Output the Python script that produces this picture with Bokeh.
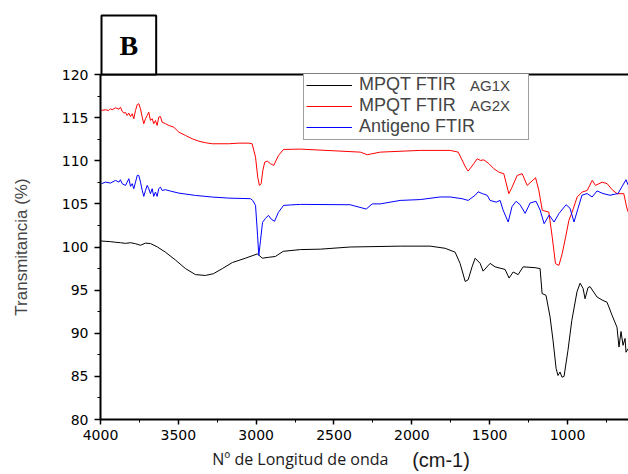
from bokeh.plotting import figure
from bokeh.layouts import column
from bokeh.models import (Range1d, SingleIntervalTicker, FixedTicker, LinearAxis, Legend, LegendItem)
from bokeh.core.properties import value
from bokeh.embed import file_html
from bokeh.resources import INLINE

# ---- data ----
red_x = [3994, 3968, 3947, 3936, 3925, 3904, 3882, 3872, 3861, 3850, 3839, 3829, 3818, 3807, 3796,
         3786, 3775, 3764, 3754, 3743, 3732, 3722, 3711, 3700, 3690, 3679, 3668, 3658, 3647, 3636,
         3626, 3615, 3604, 3582, 3561, 3529, 3497, 3454, 3411, 3369, 3326, 3282, 3176, 3112, 3047,
         3026, 3004, 2990, 2979, 2968, 2957, 2945, 2929, 2908, 2887, 2857, 2824, 2715, 2331, 2286,
         2203, 1946, 1754, 1702, 1655, 1638, 1602, 1580, 1559, 1537, 1505, 1473, 1441, 1409, 1377,
         1356, 1323, 1291, 1259, 1205, 1184, 1162, 1120, 1098, 1077, 1055, 1034, 1012, 991, 970,
         938, 906, 873, 841, 820, 777, 745, 713, 681, 638, 620, 610]
red_y = [115.83, 115.91, 115.83, 116.03, 115.91, 116.14, 115.98, 116.21, 115.75, 115.52, 115.60, 115.25,
         115.52, 115.13, 115.45, 114.87, 115.83, 116.52, 116.61, 116.03, 115.05, 114.29, 114.87, 115.25,
         115.63, 114.67, 114.87, 114.29, 114.67, 114.09, 115.05, 115.13, 114.47, 114.29, 114.09, 113.89,
         113.32, 112.93, 112.55, 112.27, 112.09, 111.97, 111.97, 112.04, 112.04, 111.97, 110.42, 108.10,
         107.14, 107.34, 108.88, 109.84, 109.96, 109.66, 109.46, 110.60, 111.31, 111.35, 111.00, 110.70,
         111.00, 111.20, 111.20, 111.00, 109.26, 108.80, 109.66, 110.23, 110.04, 110.10, 109.66, 109.08,
         108.68, 108.50, 106.18, 106.94, 108.30, 108.50, 107.14, 108.03, 106.56, 104.25, 104.05, 101.15,
         98.07, 97.87, 99.23, 101.15, 103.09, 104.05, 105.79, 106.37, 106.56, 107.72, 107.14, 107.52,
         107.34, 106.64, 106.18, 106.18, 104.63, 104.05]

blue_x = [3994, 3968, 3936, 3904, 3882, 3872, 3861, 3839, 3829, 3818, 3807, 3796, 3786, 3775, 3764,
          3754, 3743, 3732, 3722, 3711, 3700, 3690, 3679, 3668, 3658, 3647, 3636, 3626, 3615, 3604,
          3582, 3550, 3497, 3390, 3282, 3176, 3036, 3022, 3004, 2991, 2983, 2972, 2959, 2940, 2921,
          2902, 2882, 2857, 2824, 2779, 2715, 2396, 2293, 2254, 2203, 2075, 1946, 1818, 1754, 1677,
          1638, 1593, 1574, 1548, 1516, 1497, 1458, 1433, 1414, 1381, 1356, 1330, 1304, 1272, 1240,
          1202, 1176, 1150, 1118, 1086, 1054, 1009, 984, 958, 932, 907, 874, 842, 810, 772, 727,
          675, 650, 624, 611]
blue_y = [107.34, 107.52, 107.41, 107.72, 107.52, 107.80, 107.34, 107.14, 107.52, 107.92, 107.03, 107.34,
          106.76, 107.52, 108.30, 108.30, 107.52, 106.56, 105.87, 106.56, 107.14, 106.76, 106.18, 106.76,
          105.87, 106.37, 105.87, 106.76, 106.94, 106.56, 106.64, 106.48, 106.25, 105.98, 105.79, 105.67,
          105.60, 105.40, 104.82, 101.36, 99.03, 100.77, 102.86, 103.32, 103.67, 103.21, 102.98, 104.02,
          104.82, 104.88, 104.94, 104.90, 104.40, 105.00, 105.00, 105.40, 105.50, 105.80, 105.80, 105.60,
          105.40, 106.00, 106.40, 106.20, 106.00, 105.40, 105.20, 105.40, 104.30, 102.90, 104.70, 105.30,
          104.90, 103.90, 105.10, 105.30, 104.30, 102.70, 103.70, 102.90, 103.90, 104.90, 104.50, 102.90,
          104.50, 106.00, 106.20, 105.80, 106.50, 106.20, 106.00, 106.20, 107.00, 107.80, 107.20]

black_x = [4000, 3936, 3904, 3872, 3840, 3807, 3775, 3743, 3711, 3679, 3634, 3583, 3519, 3454, 3390,
           3326, 3275, 3217, 3153, 3069, 2992, 2960, 2922, 2877, 2826, 2716, 2588, 2396, 2075, 1882,
           1786, 1722, 1690, 1657, 1638, 1613, 1593, 1561, 1542, 1497, 1465, 1401, 1375, 1349, 1317,
           1285, 1208, 1176, 1163, 1138, 1112, 1093, 1073, 1061, 1048, 1035, 1022, 997, 972, 939, 919,
           900, 887, 868, 855, 810, 772, 746, 714, 682, 669, 656, 643, 630, 624, 611]
black_y = [100.70, 100.62, 100.55, 100.50, 100.42, 100.50, 100.38, 100.20, 100.45, 100.40, 100.00, 99.40,
           98.50, 97.50, 96.80, 96.70, 96.90, 97.50, 98.20, 98.70, 99.20, 98.70, 98.80, 98.90, 99.50,
           99.70, 99.75, 100.00, 100.10, 100.10, 99.85, 99.40, 98.10, 96.00, 96.20, 97.70, 98.70, 98.10,
           97.20, 98.10, 97.70, 97.40, 96.40, 97.10, 96.80, 97.70, 97.60, 97.50, 94.60, 94.40, 91.90,
           89.20, 85.90, 85.10, 85.50, 84.90, 85.00, 88.00, 91.50, 94.80, 95.80, 95.20, 94.00, 95.30,
           95.40, 94.20, 93.80, 93.60, 92.10, 90.70, 88.40, 90.20, 88.60, 89.40, 87.80, 88.20]

series_labels = ["MPQT FTIR", "MPQT FTIR", "Antigeno FTIR"]
series_suffix = ["AG1X", "AG2X"]
panel_letter = "B"
x_title = "Nº de Longitud de onda"
x_unit = "(cm-1)"
y_title = "Transmitancia (%)"
x_ticks_interval = 500
y_ticks_interval = 5

p = figure(width=628, height=446, x_range=Range1d(4000, 608), y_range=Range1d(80, 120),
           output_backend="svg", toolbar_location=None,
           min_border_left=100, min_border_right=0, min_border_top=74, min_border_bottom=27)
p.outline_line_color = None
p.xgrid.visible = False
p.ygrid.visible = False
p.background_fill_color = "white"
p.border_fill_color = "white"

r_black = p.line(black_x, black_y, line_color="black", line_width=1)
r_red = p.line(red_x, red_y, line_color="#ff0000", line_width=1)
r_blue = p.line(blue_x, blue_y, line_color="#0000ff", line_width=1)
r_dummy = p.line([], [], line_alpha=0)

for ax in (p.xaxis[0], p.yaxis[0]):
    ax.axis_line_width = 2
    ax.major_tick_line_width = 1.5
    ax.minor_tick_line_width = 1
    ax.major_label_text_font = "DejaVu Sans"
    ax.major_label_text_font_size = "14px"
    ax.major_label_text_color = "black"

p.xaxis[0].ticker = SingleIntervalTicker(interval=x_ticks_interval, num_minor_ticks=2)
p.xaxis[0].major_tick_out = 5
p.xaxis[0].major_tick_in = 0
p.xaxis[0].minor_tick_out = 3
p.xaxis[0].minor_tick_in = 0
p.xaxis[0].major_label_standoff = 5

p.yaxis[0].ticker = SingleIntervalTicker(interval=y_ticks_interval, num_minor_ticks=2)
p.yaxis[0].major_tick_out = 6
p.yaxis[0].major_tick_in = 0
p.yaxis[0].minor_tick_out = 3
p.yaxis[0].minor_tick_in = 0
p.yaxis[0].major_label_standoff = 6
p.yaxis[0].axis_label = y_title
p.yaxis[0].axis_label_text_font = "Liberation Sans"
p.yaxis[0].axis_label_text_font_size = "17px"
p.yaxis[0].axis_label_text_font_style = "normal"
p.yaxis[0].axis_label_standoff = 28

top = LinearAxis(ticker=FixedTicker(ticks=[]), major_tick_line_color=None,
                 minor_tick_line_color=None, axis_line_width=2)
p.add_layout(top, "above")

# panel letter as the plot title (boxed)
p.title.text = panel_letter
p.title.align = "left"
p.title.offset = 1
p.title.standoff = 0
p.title.text_font = "Liberation Serif"
p.title.text_font_style = "bold"
p.title.text_font_size = "28px"
p.title.text_color = "black"
p.title.border_line_color = "black"
p.title.border_line_width = 2
p.title.background_fill_color = "white"
p.title.padding = dict(left=18, right=18, top=14, bottom=14)

legend = Legend(items=[LegendItem(label=series_labels[0], renderers=[r_black]),
                       LegendItem(label=series_labels[1], renderers=[r_red]),
                       LegendItem(label=series_labels[2], renderers=[r_blue])],
                location=(203, 279), margin=0, padding=2, spacing=0,
                label_text_font="Liberation Sans", label_text_font_size="18px",
                label_height=20, glyph_height=20, glyph_width=46, label_standoff=7, label_width=167,
                border_line_color="#404040", border_line_width=1.5, background_fill_alpha=1.0)
p.add_layout(legend)

# smaller suffixes of the first two legend entries
legend2 = Legend(items=[LegendItem(label=series_suffix[0], renderers=[r_dummy]),
                        LegendItem(label=series_suffix[1], renderers=[r_dummy])],
                 location=(369, 304), margin=0, padding=0, spacing=0,
                 label_text_font="Liberation Sans", label_text_font_size="15px",
                 label_height=20, glyph_height=20, glyph_width=1, label_standoff=0,
                 border_line_color=None, background_fill_alpha=0.0)
p.add_layout(legend2)

# strip below the axis holding the x-axis title (two fonts on one line)
p2 = figure(width=628, height=28, x_range=p.x_range, y_range=Range1d(0, 1),
            output_backend="svg", toolbar_location=None,
            min_border_left=100, min_border_right=0, min_border_top=0, min_border_bottom=0)
p2.title.visible = False
p2.outline_line_color = None
p2.axis.visible = False
p2.grid.visible = False
p2.text(x=[3282], y=[0.55], text=[x_title], text_font=value("Open Sans"), text_font_size="16px",
        text_align="left", text_baseline="alphabetic", text_color="#1a1a1a")
p2.text(x=[1998], y=[0.52], text=[x_unit], text_font=value("Liberation Sans"), text_font_size="20px",
        text_align="left", text_baseline="alphabetic", text_color="#1a1a1a")

layout = column(p, p2, spacing=0)
open("out.html", "w").write(file_html(layout, INLINE))
